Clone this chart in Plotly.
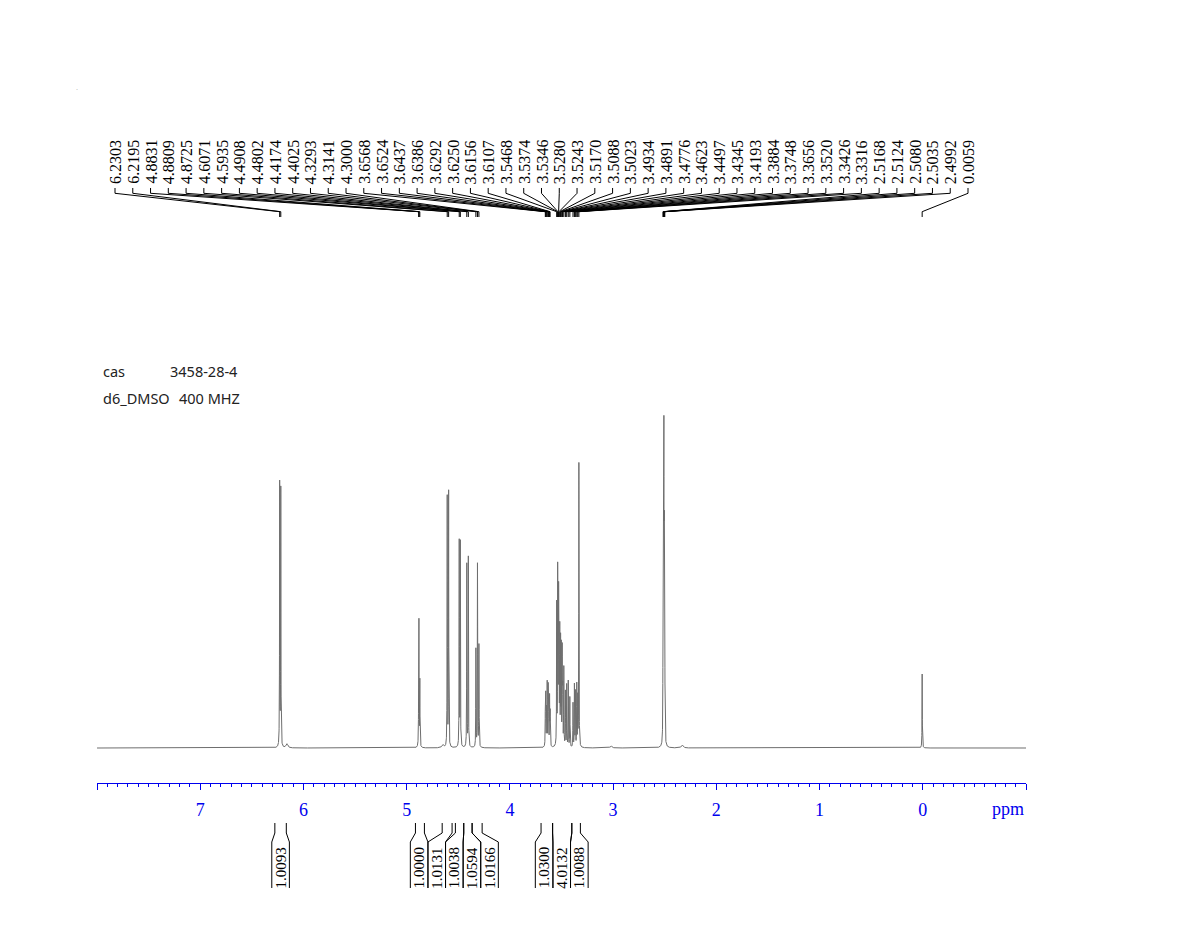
import numpy as np
import plotly.graph_objects as go

# ---------------- data ----------------
peak_ppm = [6.2303, 6.2195, 4.8831, 4.8809, 4.8725, 4.6071, 4.5935, 4.4908, 4.4802,
            4.4174, 4.4025, 4.3293, 4.3141, 4.3000, 3.6568, 3.6524, 3.6437, 3.6386,
            3.6292, 3.6250, 3.6156, 3.6107, 3.5468, 3.5374, 3.5346, 3.5280, 3.5243,
            3.5170, 3.5088, 3.5023, 3.4934, 3.4891, 3.4776, 3.4623, 3.4497, 3.4345,
            3.4193, 3.3884, 3.3748, 3.3656, 3.3520, 3.3426, 3.3316, 2.5168, 2.5124,
            2.5080, 2.5035, 2.4992, 0.0059]
peak_height = [263, 257, 95, 95, 65, 250, 255, 205, 204,
               183, 190, 98, 183, 102, 40, 50, 55, 60,
               56, 54, 48, 42, 140, 145, 135, 135, 120,
               112, 102, 96, 90, 86, 78, 55, 62, 66,
               50, 44, 62, 55, 62, 48, 284, 96, 192,
               288, 192, 96, 74]
minor_ppm = [6.16, 4.65, 2.33, 3.02]
minor_height = [4, 3, 3, 2]

integ_start = [6.277, 4.915, 4.656, 4.528, 4.447, 4.366, 3.698, 3.586, 3.400]
integ_end = [6.166, 4.828, 4.560, 4.447, 4.366, 4.269, 3.586, 3.400, 3.317]
integ_value = ["1.0093", "1.0000", "1.0131", "1.0038", "1.0594", "1.0166",
               "1.0300", "4.0132", "1.0088"]

tick_vals = [8, 7, 6, 5, 4, 3, 2, 1, 0, -1]
tick_text = ["", "7", "6", "5", "4", "3", "2", "1", "0", ""]

info_lines = [("cas", "3458-28-4"), ("d6_DMSO", "400 MHZ")]

# ---------------- geometry helpers ----------------
W, H = 1188, 952
PL, PR, PT, PB = 97, 1026, 60, 783
X_HI, X_LO = 8.0, -1.0
BASE_PX = 748

def xp_px(px):
    return (px - PL) / (PR - PL)

def yp_px(py):
    return (PB - py) / (PB - PT)

def ppm_to_px(v):
    return PL + (X_HI - v) / (X_HI - X_LO) * (PR - PL)

# y-axis in units of pixels above baseline
y_range = [-(PB - BASE_PX), BASE_PX - PT]

# ---------------- spectrum ----------------
hw = 0.0015
grid = np.arange(X_LO, X_HI, 0.0004)
grid = np.unique(np.concatenate([grid, np.array(peak_ppm)]))
spec = np.zeros_like(grid)
for p, h in zip(peak_ppm + minor_ppm, peak_height + minor_height):
    w = hw if h > 10 else 0.01
    spec += h * w * w / ((grid - p) ** 2 + w * w)
grid = grid[::-1]
spec = spec[::-1]

BLUE = "#0000EE"
fig = go.Figure()
fig.add_trace(go.Scatter(x=np.round(grid, 5), y=np.round(spec, 2), mode="lines",
                         line=dict(color="#6e6e6e", width=1), hoverinfo="skip",
                         showlegend=False))

shapes = []
annotations = []

# ---------------- peak labels ----------------
n = len(peak_ppm)
lab_px = np.linspace(115, 968, n)
path = ""
for lx, p in zip(lab_px, peak_ppm):
    px = ppm_to_px(p)
    path += "M %.5f,%.5f L %.5f,%.5f L %.5f,%.5f L %.5f,%.5f " % (
        xp_px(lx), yp_px(188), xp_px(lx), yp_px(193.3),
        xp_px(px), yp_px(211.7), xp_px(px), yp_px(217))
    annotations.append(dict(x=xp_px(lx), y=yp_px(186), xref="paper", yref="paper",
                            text="%.4f" % p, textangle=-90, showarrow=False,
                            xanchor="center", yanchor="bottom",
                            font=dict(family="Liberation Serif", size=16, color="black")))
shapes.append(dict(type="path", path=path, xref="paper", yref="paper",
                   line=dict(color="black", width=1)))

# ---------------- integrals ----------------
gap = 17.6
mids = [(ppm_to_px(a) + ppm_to_px(b)) / 2 for a, b in zip(integ_start, integ_end)]
clusters = [[i] for i in range(len(mids))]

def positions(cl):
    m = np.mean([mids[i] for i in cl])
    k = len(cl)
    return [m + (j - (k - 1) / 2) * gap for j in range(k)]

changed = True
while changed:
    changed = False
    for c in range(len(clusters) - 1):
        if positions(clusters[c])[-1] + gap > positions(clusters[c + 1])[0]:
            clusters[c] = clusters[c] + clusters[c + 1]
            del clusters[c + 1]
            changed = True
            break
lab_int = []
for cl in clusters:
    lab_int += positions(cl)

ipath = ""
hb = gap / 2
for a, b, L, txt in zip(integ_start, integ_end, lab_int, integ_value):
    ax, bx = ppm_to_px(a), ppm_to_px(b)
    ipath += "M %.5f,%.5f L %.5f,%.5f L %.5f,%.5f L %.5f,%.5f " % (
        xp_px(ax), yp_px(823), xp_px(ax), yp_px(833),
        xp_px(L - hb), yp_px(842), xp_px(L - hb), yp_px(888))
    ipath += "M %.5f,%.5f L %.5f,%.5f L %.5f,%.5f L %.5f,%.5f " % (
        xp_px(bx), yp_px(823), xp_px(bx), yp_px(833),
        xp_px(L + hb), yp_px(842), xp_px(L + hb), yp_px(888))
    annotations.append(dict(x=xp_px(L), y=yp_px(868), xref="paper", yref="paper",
                            text=txt, textangle=-90, showarrow=False,
                            xanchor="center", yanchor="middle",
                            font=dict(family="Liberation Serif", size=15, color="black")))
shapes.append(dict(type="path", path=ipath, xref="paper", yref="paper",
                   line=dict(color="black", width=1)))

# ---------------- info text ----------------
for (k, v), py in zip(info_lines, [371, 398]):
    annotations.append(dict(x=xp_px(101), y=yp_px(py), xref="paper", yref="paper",
                            text=k, showarrow=False, xanchor="left", yanchor="middle",
                            font=dict(family="Noto Sans", size=14.5, color="#222222")))
    annotations.append(dict(x=xp_px(168 if k == "cas" else 177), y=yp_px(py),
                            xref="paper", yref="paper",
                            text=v, showarrow=False, xanchor="left", yanchor="middle",
                            font=dict(family="Noto Sans", size=14.5, color="#222222")))

annotations.append(dict(x=xp_px(1008), y=yp_px(809), xref="paper", yref="paper",
                        text="ppm", showarrow=False, xanchor="center", yanchor="middle",
                        font=dict(family="Liberation Serif", size=18, color=BLUE)))
annotations.append(dict(x=xp_px(77), y=yp_px(88), xref="paper", yref="paper",
                        text=".", showarrow=False, xanchor="center", yanchor="middle",
                        font=dict(family="Liberation Serif", size=8, color="#aaaaaa")))

fig.update_layout(
    width=W, height=H,
    margin=dict(l=PL, r=W - PR, t=PT, b=H - PB, pad=0),
    paper_bgcolor="white", plot_bgcolor="white",
    showlegend=False,
    shapes=shapes, annotations=annotations,
    xaxis=dict(range=[X_HI, X_LO], showgrid=False, zeroline=False,
               showline=True, linecolor=BLUE, linewidth=1,
               ticks="outside", ticklen=6, tickcolor=BLUE, tickwidth=1,
               tickmode="array", tickvals=tick_vals, ticktext=tick_text,
               ticklabelstandoff=4,
               tickfont=dict(family="Liberation Serif", size=18, color=BLUE),
               minor=dict(ticks="outside", ticklen=3, tickcolor=BLUE, tickwidth=1,
                          dtick=0.1, tick0=0, showgrid=False)),
    yaxis=dict(range=y_range, visible=False, showgrid=False, zeroline=False),
)

fig.write_html("out.html")
